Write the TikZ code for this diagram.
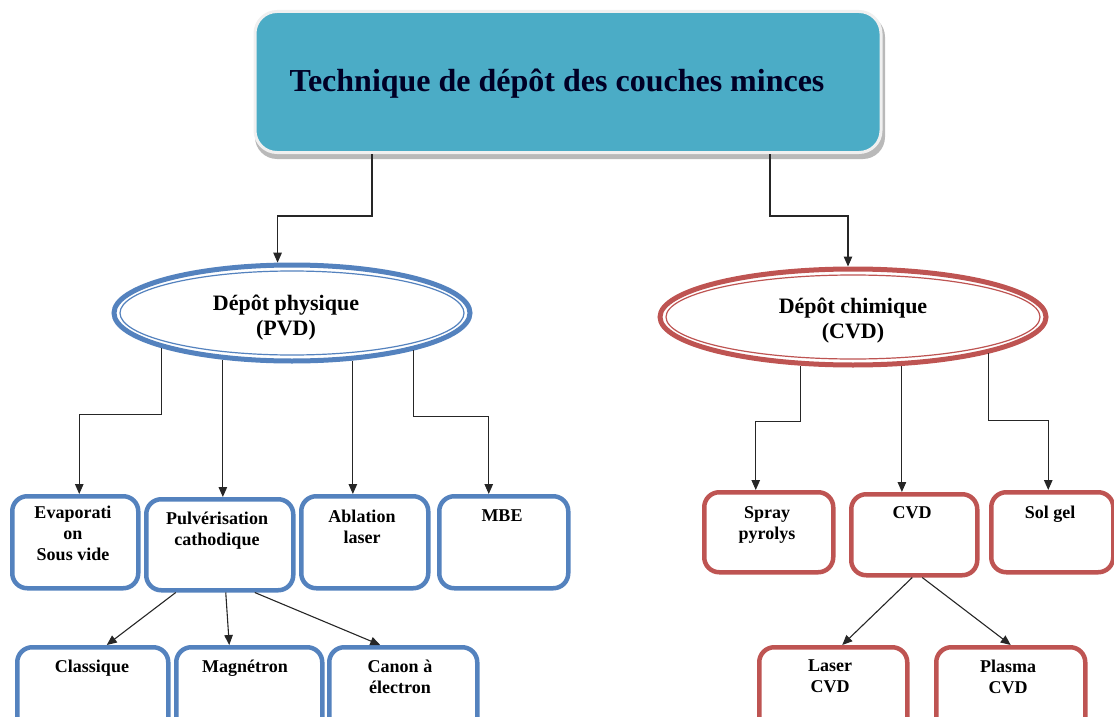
\documentclass[tikz,border=0pt]{standalone}
\usepackage{fontspec}
\setmainfont{Liberation Serif}
\usetikzlibrary{shapes.geometric,arrows.meta}
\definecolor{tealfill}{RGB}{75,172,198}
\definecolor{pblue}{RGB}{84,130,190}
\definecolor{cred}{RGB}{190,84,82}
\begin{document}
\begin{tikzpicture}[x=1pt,y=-1pt,
  arr/.style={draw=black!85, line width=1.1pt, -{Triangle[length=10pt,width=8.5pt]}},
  boxbase/.style={rectangle, rounded corners=15pt, line width=4.5pt, fill=white, inner sep=0pt, anchor=north west},
  pbox/.style={boxbase, draw=pblue},
  cbox/.style={boxbase, draw=cred},
  txt/.style={align=center, inner sep=0pt, anchor=north, font=\fontsize{18}{21}\selectfont\bfseries},
  etxt/.style={align=center, inner sep=0pt, anchor=north, font=\fontsize{22}{25}\selectfont\bfseries},
  ell/.style={ellipse, line width=5pt, fill=white, inner sep=0pt}
]
\useasboundingbox (0,0) rectangle (1114,717);
\clip (0,0) rectangle (1114,717);

% title box
\fill[gray!55, rounded corners=22pt] (255,15) rectangle (885,159);
\node[rectangle, rounded corners=22pt, fill=tealfill, draw=white!88!gray, line width=3pt,
      minimum width=626pt, minimum height=141pt, inner sep=0pt] (top) at (568,82) {};
\node[inner sep=0pt, anchor=base, font=\fontsize{32}{38}\selectfont\bfseries, text=black!85!blue] (title) at (557,92) {Technique de dépôt des couches minces};

% ellipses
\node[ell, draw=pblue, minimum width=356pt, minimum height=96pt] (pvd) at (292,313) {};
\draw[pblue, line width=1.2pt] (pvd.center) ellipse [x radius=172, y radius=42];
\node[etxt] (pvdtxt) at (286,295) {Dépôt physique\\(PVD)};

\node[ell, draw=cred, minimum width=386pt, minimum height=96pt] (cvd) at (853,317) {};
\draw[cred, line width=1.2pt] (cvd.center) ellipse [x radius=187, y radius=42];
\node[etxt] (cvdtxt) at (853,298) {Dépôt chimique\\(CVD)};

% PVD boxes
\node[pbox, minimum width=126pt, minimum height=92pt] (evap) at (10,494) {};
\node[pbox, minimum width=147pt, minimum height=91pt] (pulv) at (144,497) {};
\node[pbox, minimum width=127pt, minimum height=92pt] (abl) at (299,494) {};
\node[pbox, minimum width=129pt, minimum height=92pt] (mbe) at (437,494) {};
\node[pbox, minimum width=151pt, minimum height=100pt] (class) at (15,645) {};
\node[pbox, minimum width=146pt, minimum height=100pt] (magn) at (174,645) {};
\node[pbox, minimum width=148pt, minimum height=100pt] (canon) at (327,645) {};

\node[txt] (evaptxt) at (73,506) {Evaporati\\on\\Sous vide};
\node[txt] (pulvtxt) at (217,512) {Pulvérisation\\cathodique};
\node[txt] (abltxt) at (362,510) {Ablation\\laser};
\node[txt] (mbetxt) at (502,510) {MBE};
\node[txt] (classtxt) at (92,660) {Classique};
\node[txt] (magntxt) at (245,660) {Magnétron};
\node[txt] (canontxt) at (400,660) {Canon à\\électron};

% CVD boxes
\node[cbox, minimum width=129pt, minimum height=80pt] (spray) at (702,490) {};
\node[cbox, minimum width=126pt, minimum height=81pt] (cvdb) at (849,492) {};
\node[cbox, minimum width=122pt, minimum height=80pt] (sol) at (989,490) {};
\node[cbox, minimum width=148pt, minimum height=100pt] (laser) at (757,645) {};
\node[cbox, minimum width=149pt, minimum height=100pt] (plasma) at (934,645) {};

\node[txt] (spraytxt) at (767,506) {Spray\\pyrolys};
\node[txt] (cvdbtxt) at (912,506) {CVD};
\node[txt] (soltxt) at (1050,506) {Sol gel};
\node[txt] (lasertxt) at (830,660) {Laser\\CVD};
\node[txt] (plasmatxt) at (1008,660) {Plasma\\CVD};

% connectors from title
\draw[arr] ([xshift=-196pt]top.south) -- ++(0,62) -| (pvd.106);
\draw[arr] ([xshift=202pt]top.south) -- ++(0,62) -| ([xshift=-5pt]cvd.north);

% PVD connectors
\draw[arr] (pvd.195) -- ++(0,67) -| ([xshift=4pt]evap.north);
\draw[arr] (pvd.214) -- (pvd.214 |- pulv.north);
\draw[arr] (pvd.322) -- (pvd.322 |- abl.north);
\draw[arr] (pvd.343.5) -- ++(0,66) -| ([xshift=-15pt]mbe.north);

\draw[arr] ([xshift=-44pt]pulv.south) -- ([xshift=14pt]class.north);
\draw[arr] ([xshift=6pt]pulv.south) -- ([xshift=-20pt]magn.north);
\draw[arr] ([xshift=35pt]pulv.south) -- ([xshift=-23pt]canon.north);

% CVD connectors
\draw[arr] (cvd.223) -- ++(0,56) -| ([xshift=-13pt]spray.north);
\draw[arr] (cvd.-45) -- (cvd.-45 |- cvdb.north);
\draw[arr] (cvd.-15.7) -- ++(0,67) -| ([xshift=-4pt]sol.north);

\draw[arr] ([xshift=-2pt]cvdb.south) -- ([xshift=9pt]laser.north);
\draw[arr] ([xshift=8pt]cvdb.south) -- (plasma.north);
\end{tikzpicture}
\end{document}
